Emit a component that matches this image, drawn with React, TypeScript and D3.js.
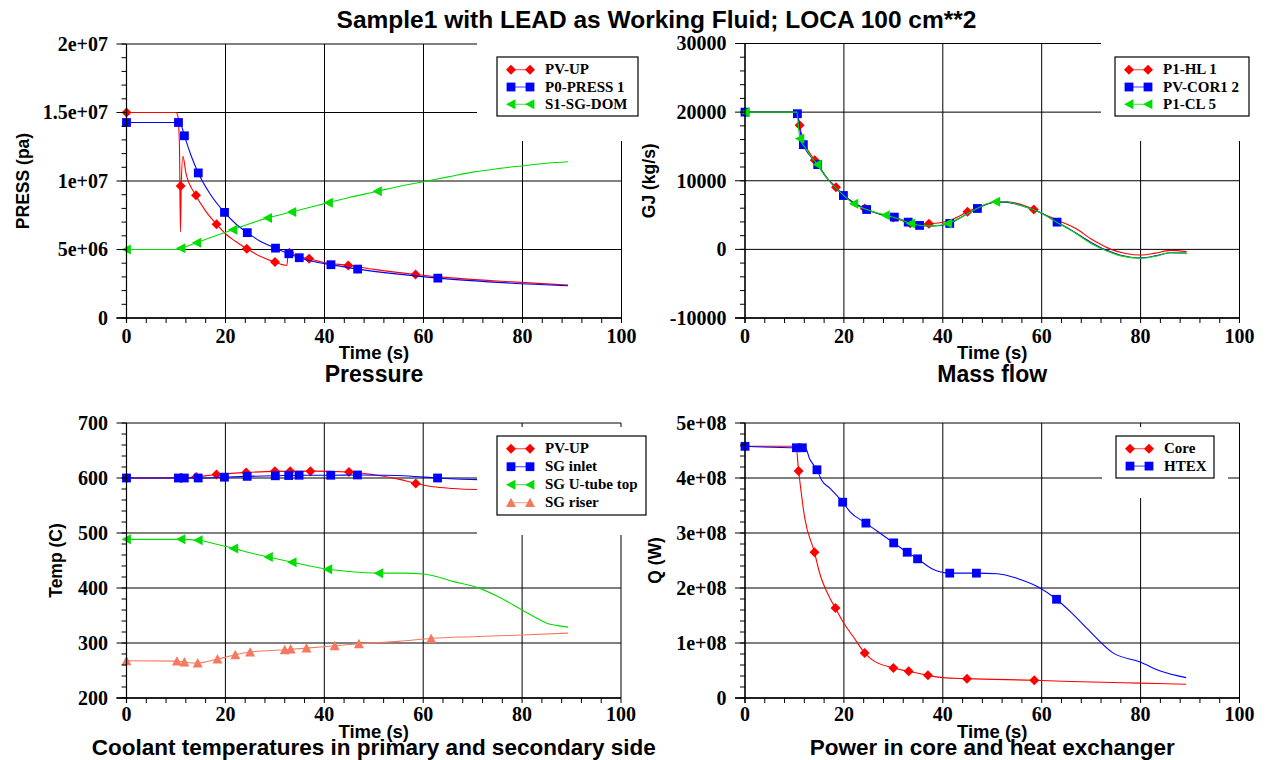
import React from "react";
import * as d3 from "d3";

type Pt = [number, number];
type MarkerKind = "diamond" | "square" | "triLeft" | "triUp";

const SERIF = "'Liberation Serif', 'Times New Roman', Times, serif";
const SANS = "'Liberation Sans', Arial, Helvetica, sans-serif";

const mainTitle = "Sample1 with LEAD as Working Fluid; LOCA 100 cm**2";
const timeLabel = "Time (s)";
const timeTicks = [0, 20, 40, 60, 80, 100];
const timeTickLabels = ["0", "20", "40", "60", "80", "100"];

// ---------- Pressure ----------
const pressTicks = [0, 5e6, 1e7, 1.5e7, 2e7];
const pressTickLabels = ["0", "5e+06", "1e+07", "1.5e+07", "2e+07"];
const pvUpPressLine: Pt[] = [
  [0, 15.0e6], [10.0, 15.0e6], [10.4, 14.7e6], [10.7, 12.5e6], [10.9, 6.3e6], [11.05, 9.6e6],
  [11.4, 11.8e6], [12.0, 10.6e6], [14.0, 8.96e6], [16, 7.8e6], [18.2, 6.84e6], [20, 6.15e6],
  [22, 5.6e6], [24.3, 5.06e6], [27, 4.5e6], [30.0, 4.08e6], [32.4, 3.84e6], [32.7, 4.85e6],
  [34, 4.6e6], [36.9, 4.33e6], [40, 4.05e6], [44.8, 3.84e6], [50, 3.55e6], [58.4, 3.18e6],
  [65, 2.95e6], [75, 2.7e6], [89.2, 2.4e6],
];
const pvUpPressMarks: Pt[] = [
  [0, 15.0e6], [10.95, 9.64e6], [14.04, 8.96e6], [18.2, 6.84e6], [24.3, 5.06e6], [30.0, 4.08e6],
  [32.9, 4.77e6], [36.9, 4.33e6], [44.8, 3.84e6], [58.4, 3.18e6],
];
const p0PressLine: Pt[] = [
  [0, 14.27e6], [10.5, 14.27e6], [11.0, 14.1e6], [11.7, 13.3e6], [13, 11.9e6], [14.5, 10.59e6],
  [17, 9.0e6], [19.8, 7.71e6], [22, 6.9e6], [24.4, 6.23e6], [27, 5.6e6], [30.1, 5.1e6],
  [32.8, 4.69e6], [34.9, 4.4e6], [38, 4.1e6], [41.3, 3.89e6], [46.7, 3.57e6], [55, 3.2e6],
  [62.9, 2.91e6], [75, 2.6e6], [89.2, 2.35e6],
];
const p0PressMarks: Pt[] = [
  [0, 14.27e6], [10.5, 14.27e6], [11.7, 13.3e6], [14.5, 10.59e6], [19.8, 7.71e6], [24.4, 6.23e6],
  [30.1, 5.1e6], [32.8, 4.69e6], [34.9, 4.4e6], [41.3, 3.89e6], [46.7, 3.57e6], [62.9, 2.91e6],
];
const sgDomLine: Pt[] = [
  [0, 5.0e6], [10, 5.0e6], [11, 5.1e6], [14.2, 5.5e6], [18, 6.0e6], [21.5, 6.45e6], [25, 6.9e6],
  [28.5, 7.3e6], [33.4, 7.74e6], [40.8, 8.42e6], [45, 8.8e6], [50.7, 9.25e6], [55, 9.6e6],
  [60, 9.95e6], [65, 10.3e6], [70, 10.65e6], [75, 10.9e6], [79.8, 11.1e6], [85, 11.3e6], [89.2, 11.4e6],
];
const sgDomMarks: Pt[] = [
  [0, 5.0e6], [11, 5.1e6], [14.2, 5.5e6], [21.5, 6.45e6], [28.5, 7.3e6], [33.4, 7.74e6],
  [40.8, 8.42e6], [50.7, 9.25e6],
];

// ---------- Mass flow ----------
const flowTicks = [-10000, 0, 10000, 20000, 30000];
const flowTickLabels = ["-10000", "0", "10000", "20000", "30000"];
const hotLegLine: Pt[] = [
  [0, 20000], [10.5, 20000], [10.8, 19200], [11.05, 18070], [12, 15600], [14.1, 12980], [16, 10900],
  [18.4, 9060], [21, 7300], [24.2, 5960], [27, 5200], [30, 4650], [33.4, 3800], [35.5, 3650],
  [37.2, 3730], [40, 3950], [42, 4400], [45, 5480], [48, 6400], [51, 6900], [53, 6950], [56, 6500],
  [58.4, 5810], [61, 4950], [64, 4000], [67, 3000], [70, 1500], [72, 700], [74, 0], [77, -600],
  [80, -830], [83, -550], [86, -150], [89.3, -330],
];
const hotLegMarks: Pt[] = [
  [0, 20000], [11.05, 18070], [14.1, 12980], [18.4, 9060], [24.2, 5960], [30, 4650],
  [33.4, 3800], [37.2, 3730], [45, 5480], [58.4, 5810],
];
const coreFlowLine: Pt[] = [
  [0, 20000], [10.4, 20000], [10.6, 19770], [11.2, 17000], [11.8, 15260], [13, 13800], [14.7, 12350],
  [17, 10000], [19.9, 7850], [22, 6800], [24.6, 5810], [27, 5200], [30.2, 4700], [33, 3970],
  [35.3, 3490], [38, 3400], [41.4, 3780], [44, 4800], [47, 5960], [50.7, 6900], [53, 6850],
  [56, 6350], [60, 5250], [63.1, 3970], [66, 2800], [70, 1000], [73, -100], [76, -850], [80, -1250],
  [83, -950], [86, -500], [89.3, -550],
];
const coreFlowMarks: Pt[] = [
  [0, 20000], [10.6, 19770], [11.8, 15260], [14.7, 12350], [19.9, 7850], [24.6, 5810], [30.2, 4700],
  [33, 3970], [35.3, 3490], [41.4, 3780], [47, 5960], [63.1, 3970],
];
const coldLegLine: Pt[] = [
  [0, 20000], [10.5, 20000], [10.8, 18000], [11.1, 16130], [12, 15000], [14.6, 12350], [17, 10000],
  [19.9, 7900], [22, 6640], [25, 5700], [28.4, 4990], [31, 4450], [33.5, 3780], [36, 3450],
  [38, 3420], [41, 3780], [44, 4800], [47, 6000], [50.7, 6930], [53, 6900], [56, 6350], [60, 5250],
  [63, 3950], [66, 2750], [70, 850], [73, -200], [76, -950], [80, -1310], [83, -1000], [86, -500],
  [89.3, -620],
];
const coldLegMarks: Pt[] = [
  [0, 20000], [11.1, 16130], [14.6, 12350], [22, 6640], [28.4, 4990], [33.5, 3780], [41, 3780],
  [50.7, 6930],
];

// ---------- Temperatures ----------
const tempTicks = [200, 300, 400, 500, 600, 700];
const tempTickLabels = ["200", "300", "400", "500", "600", "700"];
const pvUpTempLine: Pt[] = [
  [0, 600], [12, 600.5], [14.1, 602], [18.2, 606.5], [24.2, 610], [30, 612], [37.2, 612.5],
  [45, 611], [50, 606], [55, 598], [58.5, 590], [62, 584], [66, 581], [71, 579], [89.3, 577],
];
const pvUpTempMarks: Pt[] = [
  [0, 600], [11, 600.5], [14.1, 602], [18.2, 606.5], [24.2, 610], [30, 612.5], [33.1, 612.5],
  [37.2, 612.5], [45, 611], [58.5, 590],
];
const sgInletLine: Pt[] = [
  [0, 600], [15, 600], [20, 601.5], [24.4, 603], [30.1, 604], [34.9, 605], [41.3, 605], [46.7, 605.5],
  [52, 605], [57, 603.5], [62.9, 600], [71, 597], [89.3, 596],
];
const sgInletMarks: Pt[] = [
  [0, 600], [10.5, 600], [11.7, 600], [14.5, 600], [19.8, 601.5], [24.4, 603], [30.1, 604],
  [32.8, 604.5], [34.9, 605], [41.3, 605], [46.7, 605.5], [62.9, 600],
];
const uTubeLine: Pt[] = [
  [0, 488.5], [11, 488.5], [14.5, 486.8], [18, 480], [21.7, 472], [25, 464], [28.7, 456.4],
  [33.5, 446.8], [37, 440], [40.7, 434], [45, 430], [51, 427], [56, 427], [60, 425.5], [63, 420],
  [66, 412], [71, 400.7], [75, 385], [80, 360], [83, 345], [85, 336], [87, 332], [89.3, 328.8],
];
const uTubeMarks: Pt[] = [
  [0, 488.5], [11, 488.5], [14.5, 486.8], [21.7, 472], [28.7, 456.4], [33.5, 446.8], [40.7, 434],
  [51, 427],
];
const riserLine: Pt[] = [
  [0, 267.7], [10.2, 267], [11.7, 265.3], [14.4, 263.5], [18.4, 270.8], [22, 278.6], [25, 283.5],
  [32, 287.7], [36.4, 290.7], [42.1, 294.9], [47, 298.5], [55, 303], [61.6, 308.2], [70, 311.5],
  [80, 314.5], [89.3, 318],
];
const riserMarks: Pt[] = [
  [0, 267.7], [10.2, 267], [11.7, 265.3], [14.4, 263.5], [18.4, 270.8], [22, 278.6], [25, 283.5],
  [32, 287.7], [33.2, 288.9], [36.4, 290.7], [42.1, 294.9], [47, 298.5], [61.6, 308.2],
];

// ---------- Power ----------
const powerTicks = [0, 1e8, 2e8, 3e8, 4e8, 5e8];
const powerTickLabels = ["0", "1e+08", "2e+08", "3e+08", "4e+08", "5e+08"];
const coreLine: Pt[] = [
  [0, 4.576e8], [10.3, 4.576e8], [10.85, 4.127e8], [12.1, 3.26e8], [14.05, 2.65e8], [15, 2.3e8],
  [17.2, 1.81e8], [18.3, 1.636e8], [19.65, 1.41e8], [22, 1.1e8], [24.2, 0.82e8], [25.4, 0.716e8],
  [30, 0.545e8], [33.1, 0.485e8], [37, 0.413e8], [40, 0.37e8], [44.9, 0.352e8], [58.5, 0.322e8],
  [70, 0.29e8], [80, 0.27e8], [89.2, 0.25e8],
];
const coreMarks: Pt[] = [
  [0, 4.576e8], [10.85, 4.127e8], [14.05, 2.65e8], [18.3, 1.636e8], [24.2, 0.82e8], [30, 0.545e8],
  [33.1, 0.485e8], [37, 0.413e8], [44.9, 0.352e8], [58.5, 0.322e8],
];
const htexLine: Pt[] = [
  [0, 4.576e8], [10.4, 4.55e8], [12.2, 4.55e8], [13.06, 4.35e8], [14.55, 4.15e8], [15.5, 3.96e8],
  [17.2, 3.81e8], [19.75, 3.56e8], [21.3, 3.38e8], [24.45, 3.18e8], [30.07, 2.82e8], [32.8, 2.65e8],
  [34.9, 2.53e8], [37.8, 2.35e8], [41.4, 2.27e8], [46.8, 2.27e8], [51, 2.26e8], [55.2, 2.17e8],
  [59.3, 2.02e8], [63, 1.795e8], [65.9, 1.56e8], [69.2, 1.26e8], [74.4, 0.82e8], [79.9, 0.655e8],
  [84, 0.49e8], [89.2, 0.37e8],
];
const htexMarks: Pt[] = [
  [0, 4.576e8], [10.4, 4.55e8], [11.6, 4.55e8], [14.55, 4.15e8], [19.75, 3.56e8], [24.45, 3.18e8],
  [30.07, 2.82e8], [32.8, 2.65e8], [34.9, 2.53e8], [41.4, 2.27e8], [46.8, 2.27e8], [63, 1.795e8],
];

const RED = "#ff0000";
const BLUE = "#0000ff";
const GREEN = "#00dd00";
const SALMON = "#f4795f";

interface Series { name: string; color: string; marker: MarkerKind; line: Pt[]; marks: Pt[]; }
interface Rect { x0: number; x1: number; y0: number; y1: number; }
interface PanelDef {
  box: Rect;
  yDomain: [number, number];
  yTicks: number[];
  yTickLabels: string[];
  yLabel: string;
  yLabelX: number;
  title: string;
  titleSize: number;
  xTickY: number;
  xLabelY: number;
  titleY: number;
  series: Series[];
  legend: { x: number; y: number; w: number; h: number; row: number };
  cover: Rect;
}

const panels: PanelDef[] = [
  {
    box: { x0: 126.5, x1: 621.5, y0: 44, y1: 318 },
    yDomain: [0, 2e7], yTicks: pressTicks, yTickLabels: pressTickLabels,
    yLabel: "PRESS (pa)", yLabelX: 29, title: "Pressure", titleSize: 23,
    xTickY: 343, xLabelY: 359, titleY: 381.5,
    series: [
      { name: "PV-UP", color: RED, marker: "diamond", line: pvUpPressLine, marks: pvUpPressMarks },
      { name: "P0-PRESS 1", color: BLUE, marker: "square", line: p0PressLine, marks: p0PressMarks },
      { name: "S1-SG-DOM", color: GREEN, marker: "triLeft", line: sgDomLine, marks: sgDomMarks },
    ],
    legend: { x: 497, y: 57, w: 141, h: 59, row: 17.3 },
    cover: { x0: 477, x1: 658, y0: 36, y1: 141 },
  },
  {
    box: { x0: 745, x1: 1239.5, y0: 43.5, y1: 318 },
    yDomain: [-10000, 30000], yTicks: flowTicks, yTickLabels: flowTickLabels,
    yLabel: "GJ (kg/s)", yLabelX: 655, title: "Mass flow", titleSize: 23,
    xTickY: 343, xLabelY: 359, titleY: 381.5,
    series: [
      { name: "P1-HL 1", color: RED, marker: "diamond", line: hotLegLine, marks: hotLegMarks },
      { name: "PV-COR1 2", color: BLUE, marker: "square", line: coreFlowLine, marks: coreFlowMarks },
      { name: "P1-CL 5", color: GREEN, marker: "triLeft", line: coldLegLine, marks: coldLegMarks },
    ],
    legend: { x: 1115, y: 57, w: 134, h: 59, row: 17.3 },
    cover: { x0: 1101, x1: 1263, y0: 36, y1: 141 },
  },
  {
    box: { x0: 126.5, x1: 621, y0: 423, y1: 698 },
    yDomain: [200, 700], yTicks: tempTicks, yTickLabels: tempTickLabels,
    yLabel: "Temp (C)", yLabelX: 62, title: "Coolant temperatures in primary and secondary side", titleSize: 22.5,
    xTickY: 721, xLabelY: 737.5, titleY: 754.5,
    series: [
      { name: "PV-UP", color: RED, marker: "diamond", line: pvUpTempLine, marks: pvUpTempMarks },
      { name: "SG inlet", color: BLUE, marker: "square", line: sgInletLine, marks: sgInletMarks },
      { name: "SG U-tube top", color: GREEN, marker: "triLeft", line: uTubeLine, marks: uTubeMarks },
      { name: "SG riser", color: SALMON, marker: "triUp", line: riserLine, marks: riserMarks },
    ],
    legend: { x: 497, y: 436, w: 149, h: 79, row: 18 },
    cover: { x0: 477, x1: 666, y0: 427, y1: 535 },
  },
  {
    box: { x0: 745, x1: 1239.5, y0: 423, y1: 698 },
    yDomain: [0, 5e8], yTicks: powerTicks, yTickLabels: powerTickLabels,
    yLabel: "Q (W)", yLabelX: 661, title: "Power in core and heat exchanger", titleSize: 22.5,
    xTickY: 721, xLabelY: 737.5, titleY: 754.5,
    series: [
      { name: "Core", color: RED, marker: "diamond", line: coreLine, marks: coreMarks },
      { name: "HTEX", color: BLUE, marker: "square", line: htexLine, marks: htexMarks },
    ],
    legend: { x: 1116, y: 436, w: 98, h: 42, row: 17.4 },
    cover: { x0: 1102, x1: 1228, y0: 427, y1: 498 },
  },
];

function markerPath(kind: MarkerKind): string {
  switch (kind) {
    case "diamond": return "M0,-5L5,0L0,5L-5,0Z";
    case "square": return "M-4.4,-4.4H4.4V4.4H-4.4Z";
    case "triLeft": return "M-5,0L4.4,-5L4.4,5Z";
    case "triUp": return "M0,-5L5,4.4L-5,4.4Z";
  }
}

function Panel(p: PanelDef) {
  const { box } = p;
  const x = d3.scaleLinear().domain([0, 100]).range([box.x0, box.x1]);
  const y = d3.scaleLinear().domain(p.yDomain).range([box.y1, box.y0]);
  const line = d3.line<Pt>().x((d) => x(d[0])).y((d) => y(d[1])).curve(d3.curveMonotoneX);
  const majorStep = p.yTicks[1] - p.yTicks[0];
  const yMinor = d3.range(p.yDomain[0], p.yDomain[1] + majorStep * 0.01, majorStep / 5);
  const xMinor = d3.range(0, 100.01, 4);
  const lg = p.legend;
  const midY = (box.y0 + box.y1) / 2;
  const midX = (box.x0 + box.x1) / 2;
  return (
    <g>
      {timeTicks.map((t) => (
        <line key={"gx" + t} x1={x(t)} x2={x(t)} y1={box.y0} y2={box.y1} stroke="#000" strokeWidth={1} />
      ))}
      {p.yTicks.map((v) => (
        <line key={"gy" + v} x1={box.x0} x2={box.x1} y1={y(v)} y2={y(v)} stroke="#000" strokeWidth={1} />
      ))}
      {p.series.map((s) => (
        <g key={s.name}>
          <path d={line(s.line) || ""} fill="none" stroke={s.color} strokeWidth={1.1} />
          {s.marks.map((m, i) => (
            <path key={i} d={markerPath(s.marker)} transform={`translate(${x(m[0])},${y(m[1])})`} fill={s.color} />
          ))}
        </g>
      ))}
      <rect x={p.cover.x0} y={p.cover.y0} width={p.cover.x1 - p.cover.x0} height={p.cover.y1 - p.cover.y0} fill="#fff" />
      <rect x={lg.x} y={lg.y} width={lg.w} height={lg.h} fill="#fff" stroke="#000" strokeWidth={1.2} />
      {p.series.map((s, i) => {
        const base = lg.y + 17.3 + i * lg.row;
        const cy = base - 4.6;
        return (
          <g key={"lg" + s.name}>
            <line x1={lg.x + 14} x2={lg.x + 33} y1={cy} y2={cy} stroke={s.color} strokeWidth={1.1} opacity={0.7} />
            <path d={markerPath(s.marker)} transform={`translate(${lg.x + 14},${cy})`} fill={s.color} />
            <path d={markerPath(s.marker)} transform={`translate(${lg.x + 33},${cy})`} fill={s.color} />
            <text x={lg.x + 48} y={base} fontFamily={SERIF} fontWeight="bold" fontSize={15} fill="#000">{s.name}</text>
          </g>
        );
      })}
      <line x1={box.x0} x2={box.x0} y1={box.y0} y2={box.y1 + 5} stroke="#000" strokeWidth={1.2} />
      <line x1={box.x0 - 10} x2={box.x1} y1={box.y1} y2={box.y1} stroke="#000" strokeWidth={1.6} />
      {yMinor.map((v, i) => (
        <line key={"ym" + i} x1={box.x0 - 5} x2={box.x0} y1={y(v)} y2={y(v)} stroke="#000" strokeWidth={1} />
      ))}
      {p.yTicks.map((v) => (
        <line key={"yt" + v} x1={box.x0 - 10} x2={box.x0} y1={y(v)} y2={y(v)} stroke="#000" strokeWidth={1} />
      ))}
      {xMinor.map((t) => (
        <line key={"xm" + t} x1={x(t)} x2={x(t)} y1={box.y1} y2={box.y1 + 5} stroke="#000" strokeWidth={1} />
      ))}
      {p.yTicks.map((v, i) => (
        <text key={"yl" + v} x={box.x0 - 18.5} y={y(v) + 6.8} textAnchor="end" fontFamily={SERIF} fontWeight="bold" fontSize={20} fill="#000">
          {p.yTickLabels[i]}
        </text>
      ))}
      {timeTicks.map((t, i) => (
        <text key={"xl" + t} x={x(t)} y={p.xTickY} textAnchor="middle" fontFamily={SERIF} fontWeight="bold" fontSize={20} fill="#000">
          {timeTickLabels[i]}
        </text>
      ))}
      <text x={midX} y={p.xLabelY} textAnchor="middle" fontFamily={SANS} fontWeight="bold" fontSize={18.5} fill="#000">{timeLabel}</text>
      <text x={midX} y={p.titleY} textAnchor="middle" fontFamily={SANS} fontWeight="bold" fontSize={p.titleSize} fill="#000">{p.title}</text>
      <text transform={`translate(${p.yLabelX},${midY}) rotate(-90)`} textAnchor="middle" fontFamily={SANS} fontWeight="bold" fontSize={17.5} fill="#000">
        {p.yLabel}
      </text>
    </g>
  );
}

export default function App() {
  return (
    <svg width={1270} height={760} style={{ position: "absolute", left: 0, top: 0, display: "block", background: "#fff" }}>
      <rect x={0} y={0} width={1270} height={760} fill="#fff" />
      {panels.map((p, i) => (
        <Panel key={i} {...p} />
      ))}
      <text x={656.5} y={28} textAnchor="middle" fontFamily={SANS} fontWeight="bold" fontSize={24.5} fill="#000">
        {mainTitle}
      </text>
    </svg>
  );
}
